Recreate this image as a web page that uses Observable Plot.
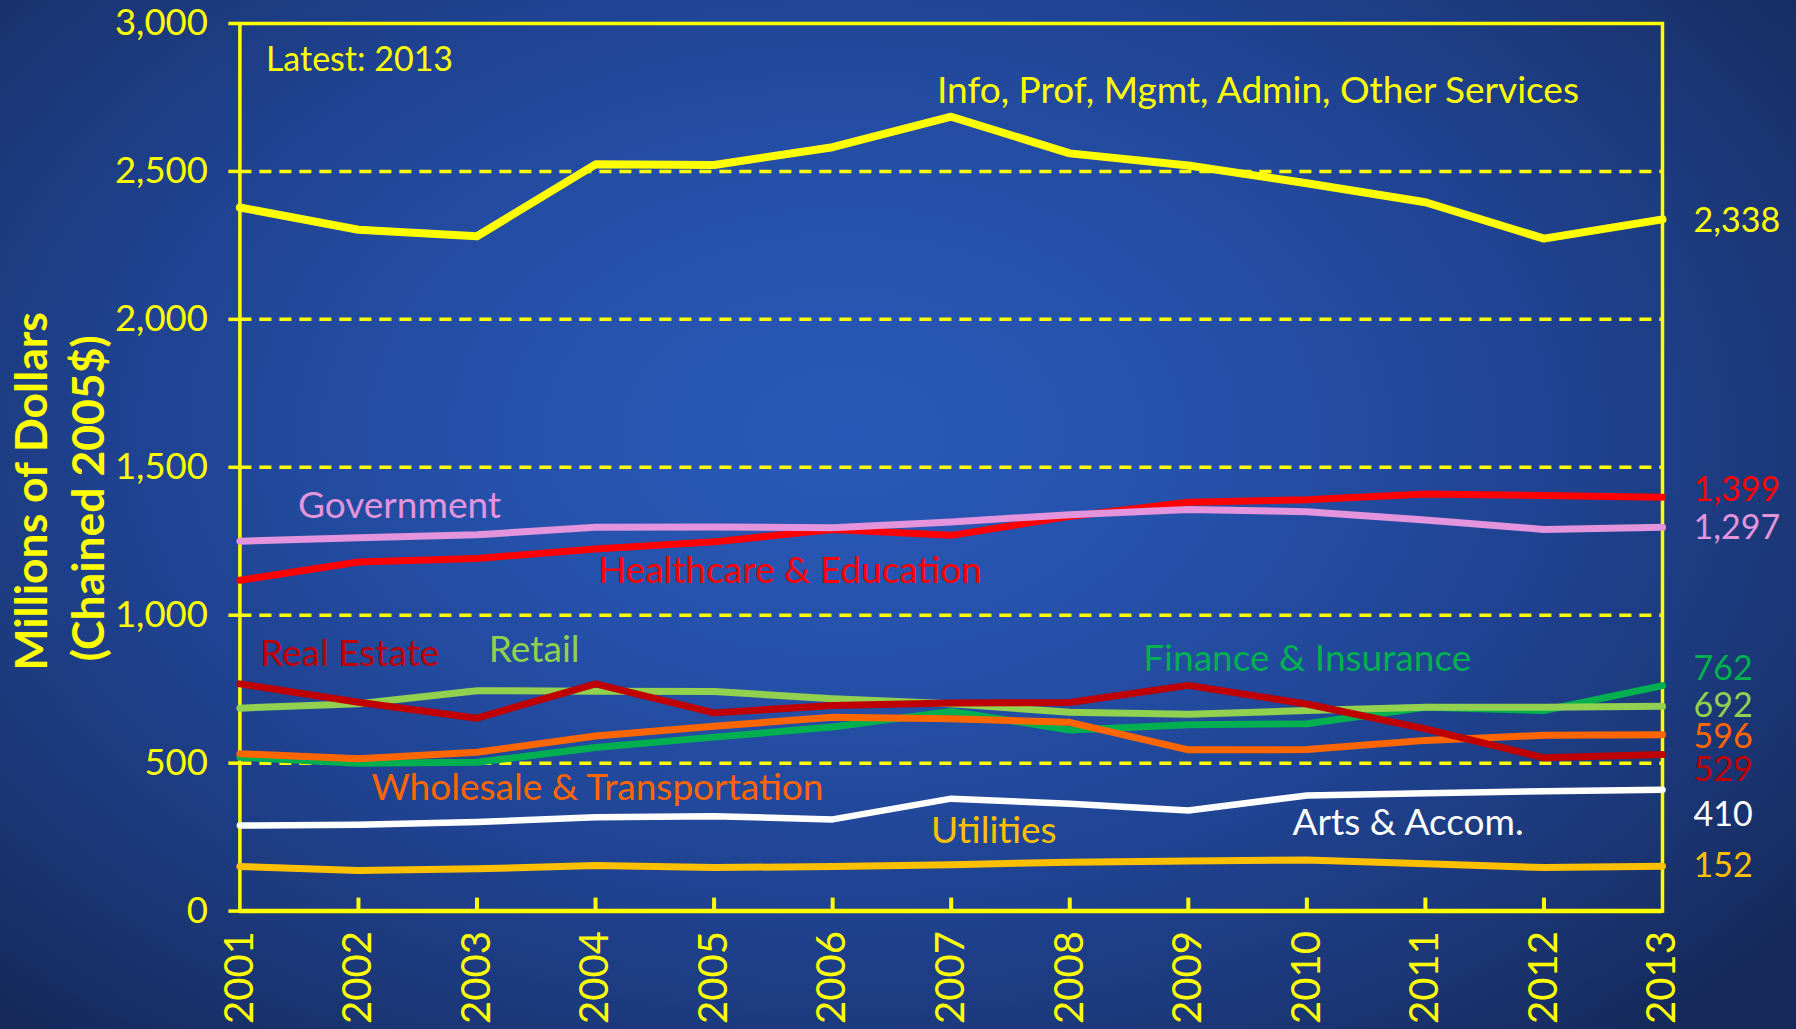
<!DOCTYPE html>
<html>
<head>
<meta charset="utf-8">
<script src="https://cdn.jsdelivr.net/npm/d3@7"></script>
<script src="https://cdn.jsdelivr.net/npm/@observablehq/plot@0.6"></script>
<style>
  html, body { margin: 0; padding: 0; width: 1796px; height: 1029px; overflow: hidden; }
  body {
    background: radial-gradient(ellipse 68% 78% at 47% 42%, #2959B8 0%, #2551AA 30%, #1F4290 60%, #1A3470 85%, #15295A 100%);
    font-family: Lato, "Open Sans", sans-serif;
  }
  #chart svg { display: block; }
</style>
</head>
<body>
<div id="chart"></div>
<script>
// ---- Data ----
const years = [2001, 2002, 2003, 2004, 2005, 2006, 2007, 2008, 2009, 2010, 2011, 2012, 2013];
const yTicks = [0, 500, 1000, 1500, 2000, 2500, 3000];
const gridValues = [500, 1000, 1500, 2000, 2500];

const info       = [2378, 2303, 2281, 2524, 2522, 2582, 2685, 2561, 2520, 2460, 2396, 2273, 2338];
const healthcare = [1118, 1180, 1192, 1224, 1248, 1290, 1270, 1334, 1382, 1390, 1410, 1405, 1399];
const government = [1250, 1262, 1272, 1297, 1298, 1296, 1315, 1340, 1357, 1350, 1322, 1290, 1297];
const realEstate = [768, 706, 652, 768, 670, 695, 703, 705, 763, 700, 616, 518, 529];
const retail     = [686, 701, 745, 743, 742, 718, 701, 672, 665, 678, 689, 689, 692];
const finance    = [520, 500, 503, 553, 588, 622, 675, 612, 630, 633, 689, 678, 762];
const wholesale  = [532, 515, 537, 592, 625, 655, 650, 638, 545, 546, 577, 594, 596];
const arts       = [289, 292, 301, 317, 321, 310, 380, 363, 340, 391, 398, 405, 410];
const utilities  = [151, 137, 143, 154, 147, 151, 157, 165, 169, 173, 160, 147, 152];

const seriesNames = [
  "Info, Prof, Mgmt, Admin, Other Services", "Healthcare & Education", "Government",
  "Real Estate", "Retail", "Finance & Insurance", "Wholesale & Transportation",
  "Arts & Accom.", "Utilities"
];

// ---- Styling / label placement (not data) ----
const seriesStyle = {
  "Info, Prof, Mgmt, Admin, Other Services": {values: info, color: "#FFFF00", lx: 2006.88, ly: 2770, vdy: 2, sw: 8},
  "Healthcare & Education":                  {values: healthcare, color: "#FF0000", lx: 2004.02, ly: 1148, vdy: -7, sw: 7},
  "Government":                              {values: government, color: "#E394DC", lx: 2001.49, ly: 1368, vdy: 1, sw: 7},
  "Real Estate":                             {values: realEstate, color: "#C00000", lx: 2001.17, ly: 868, vdy: 16, sw: 7},
  "Retail":                                  {values: retail, color: "#92D050", lx: 2003.10, ly: 881, vdy: 0, sw: 7},
  "Finance & Insurance":                     {values: finance, color: "#00B050", lx: 2008.62, ly: 850, vdy: -17, sw: 7},
  "Wholesale & Transportation":              {values: wholesale, color: "#FF6600", lx: 2002.11, ly: 415, vdy: 2, sw: 7},
  "Arts & Accom.":                           {values: arts, color: "#FFFFFF", lx: 2009.88, ly: 298, vdy: 25, sw: 6.5},
  "Utilities":                               {values: utilities, color: "#FFC000", lx: 2006.83, ly: 270, vdy: 0, sw: 7}
};
const drawOrder = ["Utilities", "Arts & Accom.", "Finance & Insurance", "Wholesale & Transportation",
  "Retail", "Real Estate", "Healthcare & Education", "Government", "Info, Prof, Mgmt, Admin, Other Services"];

const W = 1796, H = 1029;
const mL = 239.4, mR = 134, mT = 23, mB = 118.4;
const plotH = H - mT - mB;
const YEL = "#FFFF00";
const fmt = d3.format(",");

const lineMarks = [];
const labelMarks = [];
for (const name of drawOrder) {
  const s = seriesStyle[name];
  const rows = years.map((yr, i) => ({year: yr, value: s.values[i]}));
  lineMarks.push(Plot.line(rows, {x: "year", y: "value", stroke: s.color, strokeWidth: s.sw, strokeLinecap: "round", strokeLinejoin: "round"}));
  const last = rows[rows.length - 1];
  labelMarks.push(Plot.text([last], {x: "year", y: "value", text: d => fmt(d.value), fill: s.color, fontSize: 34, textAnchor: "start", dx: 31, dy: s.vdy}));
  labelMarks.push(Plot.text([{year: s.lx, value: s.ly, name}], {x: "year", y: "value", text: "name", fill: s.color, fontSize: 37, textAnchor: "start"}));
}

const chart = Plot.plot({
  width: W,
  height: H,
  marginLeft: mL, marginRight: mR, marginTop: mT, marginBottom: mB,
  style: {background: "transparent", color: YEL, fontFamily: "Lato, 'Open Sans', sans-serif", overflow: "visible"},
  x: {domain: [2001, 2013]},
  y: {domain: [0, 3000]},
  marks: [
    Plot.ruleY(gridValues, {stroke: YEL, strokeWidth: 3.5, strokeDasharray: "12,8"}),
    Plot.axisY({ticks: yTicks, tickFormat: fmt, tickSize: 11, tickPadding: 21, strokeWidth: 3.5, fontSize: 36.5, label: null, fill: YEL, stroke: YEL}),
    Plot.axisX({ticks: years, tickFormat: d => String(d), tickSize: 0, tickRotate: -90, tickPadding: 20, fontSize: 40, label: null, fill: YEL}),
    Plot.ruleX(years.slice(1, -1), {stroke: YEL, strokeWidth: 4, insetTop: plotH - 13}),
    Plot.frame({stroke: YEL, strokeWidth: 3.5}),
    Plot.ruleY([0], {stroke: YEL, strokeWidth: 4.5}),
    ...lineMarks,
    ...labelMarks,
    Plot.text(["Latest: 2013"], {text: d => d, frameAnchor: "top-left", lineAnchor: "middle", dx: 26, dy: 37, fill: YEL, fontSize: 34, textAnchor: "start"}),
    Plot.text(["Millions of Dollars"], {text: d => d, frameAnchor: "left", rotate: -90, dx: -207, dy: 24, fill: YEL, fontSize: 44.5, fontWeight: "bold", textAnchor: "middle"}),
    Plot.text(["(Chained 2005$)"], {text: d => d, frameAnchor: "left", rotate: -90, dx: -150, dy: 31, fill: YEL, fontSize: 44.5, fontWeight: "bold", textAnchor: "middle"})
  ]
});
document.getElementById("chart").appendChild(chart);
</script>
</body>
</html>
